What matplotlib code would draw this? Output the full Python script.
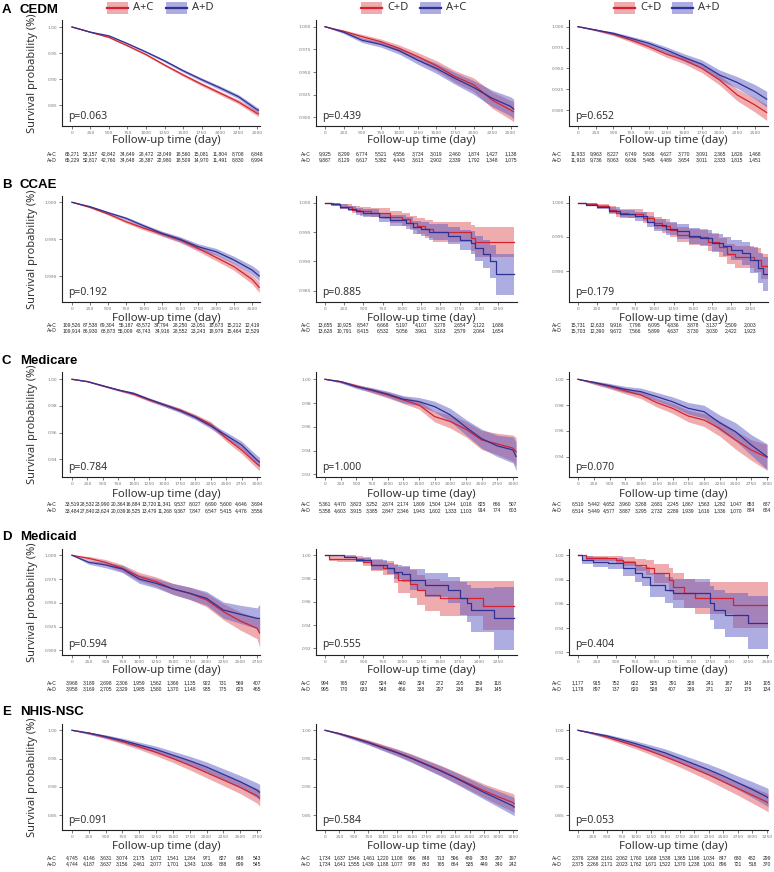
import matplotlib
matplotlib.use("Agg")
import matplotlib.pyplot as plt
from matplotlib.patches import Rectangle
from matplotlib.lines import Line2D

# ---------------- DATA ----------------
row_titles = ["A", "B", "C", "D", "E"]
row_names = ["CEDM", "CCAE", "Medicare", "Medicaid", "NHIS-NSC"]
legend_labels = [("A+C", "A+D"), ("C+D", "A+C"), ("C+D", "A+D")]
risk_labels = ("A+C", "A+D")

# A: CEDM
a1_t = [0, 250, 500, 750, 1000, 1250, 1500, 1750, 2000, 2250, 2500, 2520]
a1_red = [1, 0.990, 0.980, 0.964, 0.947, 0.927, 0.908, 0.890, 0.873, 0.856, 0.834, 0.833]
a1_blue = [1, 0.990, 0.983, 0.968, 0.952, 0.935, 0.916, 0.899, 0.883, 0.866, 0.841, 0.840]
a1_ci = [0, 0.0008, 0.0012, 0.0016, 0.002, 0.0024, 0.0028, 0.0032, 0.0036, 0.004, 0.0048, 0.005]
a2_t = [0, 250, 500, 750, 1000, 1250, 1500, 1750, 2000, 2250, 2500, 2540]
a2_red = [1, 0.995, 0.989, 0.9835, 0.976, 0.967, 0.957, 0.945, 0.936, 0.919, 0.908, 0.906]
a2_blue = [1, 0.994, 0.985, 0.9805, 0.9735, 0.963, 0.954, 0.943, 0.933, 0.921, 0.912, 0.909]
a2_ci = [0, 0.0015, 0.0025, 0.003, 0.0038, 0.0045, 0.0055, 0.0065, 0.0075, 0.009, 0.0105, 0.011]
a3_t = [0, 250, 500, 750, 1000, 1250, 1500, 1750, 2000, 2250, 2500, 2665]
a3_red = [1, 0.996, 0.991, 0.984, 0.976, 0.967, 0.960, 0.950, 0.936, 0.918, 0.906, 0.897]
a3_blue = [1, 0.996, 0.992, 0.986, 0.980, 0.972, 0.963, 0.955, 0.942, 0.933, 0.922, 0.913]
a3_ci = [0, 0.001, 0.0018, 0.0025, 0.003, 0.0037, 0.0045, 0.0052, 0.006, 0.007, 0.0085, 0.0095]

# B: CCAE
b1_t = [0, 250, 500, 750, 1000, 1250, 1500, 1750, 2000, 2250, 2500, 2600]
b1_red = [1, 0.99932, 0.99842, 0.99738, 0.99647, 0.9957, 0.99489, 0.99376, 0.99253, 0.99127, 0.98955, 0.98846]
b1_blue = [1, 0.99941, 0.9986, 0.99783, 0.99679, 0.99579, 0.99498, 0.99398, 0.9933, 0.99217, 0.99081, 0.9900]
b1_ci = [0, 0.0001, 0.00015, 0.0002, 0.00025, 0.0003, 0.00035, 0.0004, 0.00045, 0.0005, 0.0006, 0.0007]
b2_red_t = [0, 100, 200, 350, 450, 600, 750, 850, 1000, 1100, 1200, 1300, 1400, 1900, 1950, 2458]
b2_red = [1, 0.9997, 0.9993, 0.9988, 0.9985, 0.9983, 0.9982, 0.9976, 0.9972, 0.9966, 0.9960, 0.9955, 0.9950, 0.9940, 0.9933, 0.9933]
b2_red_ci = [0, 0.0002, 0.0004, 0.0006, 0.0007, 0.0008, 0.0009, 0.001, 0.0011, 0.0012, 0.0014, 0.0015, 0.0017, 0.0022, 0.0025, 0.0025]
b2_blue_t = [0, 80, 200, 300, 400, 500, 700, 850, 1050, 1150, 1250, 1350, 1600, 1750, 1900, 1950, 2050, 2150, 2220, 2458]
b2_blue = [1, 0.9997, 0.9993, 0.9990, 0.9985, 0.9982, 0.9975, 0.9970, 0.9965, 0.9958, 0.99545, 0.9950, 0.9944, 0.9937, 0.9932, 0.9922, 0.9912, 0.9900, 0.9878, 0.9878]
b2_blue_ci = [0, 0.0002, 0.0004, 0.0005, 0.0006, 0.0007, 0.0008, 0.0009, 0.001, 0.0011, 0.0012, 0.0013, 0.0015, 0.0017, 0.0019, 0.0021, 0.0024, 0.0028, 0.0035, 0.0035]
b3_red_t = [0, 100, 250, 400, 500, 650, 850, 1000, 1100, 1200, 1300, 1450, 1700, 1850, 1950, 2050, 2300, 2400, 2486]
b3_red = [1, 0.9998, 0.99956, 0.9990, 0.99854, 0.9984, 0.9978, 0.9970, 0.9966, 0.9960, 0.9953, 0.9950, 0.9942, 0.9935, 0.9925, 0.9921, 0.9916, 0.9907, 0.9907]
b3_red_ci = [0, 0.0002, 0.0003, 0.0005, 0.0006, 0.0007, 0.0008, 0.0009, 0.001, 0.001, 0.0011, 0.0012, 0.0013, 0.0014, 0.0015, 0.0016, 0.0017, 0.0018, 0.0018]
b3_blue_t = [0, 100, 250, 400, 550, 750, 900, 1000, 1150, 1300, 1450, 1600, 1750, 1900, 2000, 2150, 2250, 2350, 2420, 2486]
b3_blue = [1, 0.9997, 0.9994, 0.9988, 0.9984, 0.9980, 0.9972, 0.9967, 0.9962, 0.9958, 0.9951, 0.9948, 0.99415, 0.9936, 0.99307, 0.9926, 0.9916, 0.9905, 0.98956, 0.98956]
b3_blue_ci = [0, 0.0002, 0.0003, 0.0005, 0.0006, 0.0007, 0.0008, 0.0009, 0.001, 0.0011, 0.0012, 0.0012, 0.0013, 0.0014, 0.0015, 0.0017, 0.0019, 0.0022, 0.0025, 0.0025]

# C: Medicare
c1_t = [0, 250, 500, 750, 1000, 1250, 1500, 1750, 2000, 2250, 2500, 2750, 3000, 3040]
c1_red = [1, 0.9983, 0.995, 0.992, 0.9888, 0.9845, 0.9808, 0.977, 0.972, 0.9663, 0.9558, 0.947, 0.9365, 0.935]
c1_blue = [1, 0.9983, 0.9952, 0.992, 0.9895, 0.985, 0.9808, 0.9765, 0.9715, 0.965, 0.958, 0.9508, 0.9395, 0.938]
c1_ci = [0, 0.0003, 0.0005, 0.0007, 0.0009, 0.0011, 0.0013, 0.0015, 0.0017, 0.002, 0.0024, 0.0028, 0.0034, 0.0036]
c2_t = [0, 250, 500, 750, 1000, 1250, 1500, 1750, 2000, 2250, 2500, 2750, 3000, 3050]
c2_red = [1, 0.998, 0.9944, 0.9905, 0.9868, 0.9826, 0.9784, 0.9686, 0.9644, 0.9579, 0.9489, 0.9456, 0.942, 0.939]
c2_blue = [1, 0.998, 0.9938, 0.991, 0.9875, 0.9832, 0.9812, 0.977, 0.970, 0.9596, 0.950, 0.9439, 0.9405, 0.935]
c2_ci = [0, 0.001, 0.0015, 0.002, 0.0025, 0.003, 0.0035, 0.0045, 0.0055, 0.0065, 0.008, 0.009, 0.011, 0.012]
c3_t = [0, 250, 500, 750, 1000, 1250, 1500, 1750, 2000, 2250, 2500, 2750, 3000]
c3_red = [1, 0.9974, 0.9945, 0.991, 0.9878, 0.9819, 0.9775, 0.9715, 0.9684, 0.9619, 0.9529, 0.9452, 0.9395]
c3_blue = [1, 0.9976, 0.995, 0.9922, 0.9904, 0.9865, 0.9826, 0.9775, 0.9749, 0.9663, 0.9594, 0.9491, 0.940]
c3_ci = [0, 0.0012, 0.0018, 0.0023, 0.0028, 0.0033, 0.0038, 0.0045, 0.005, 0.006, 0.007, 0.008, 0.01]

# D: Medicaid
d1_t = [0, 250, 500, 750, 1000, 1250, 1500, 1750, 2000, 2250, 2500, 2750, 2790]
d1_red = [1, 0.9968, 0.9926, 0.9863, 0.9775, 0.9723, 0.9646, 0.960, 0.953, 0.9407, 0.9309, 0.9232, 0.918]
d1_blue = [1, 0.9926, 0.9898, 0.9856, 0.975, 0.9705, 0.9646, 0.960, 0.9547, 0.9424, 0.9379, 0.9337, 0.9335]
d1_ci = [0, 0.002, 0.003, 0.0038, 0.0045, 0.005, 0.0058, 0.0065, 0.0072, 0.0085, 0.0095, 0.011, 0.015]
d2_red_t = [0, 50, 150, 500, 600, 750, 900, 950, 1100, 1200, 1300, 1500, 2050, 2458]
d2_red = [1, 0.997, 0.9966, 0.9946, 0.9917, 0.9894, 0.9845, 0.9788, 0.975, 0.9702, 0.9659, 0.963, 0.9567, 0.9567]
d2_red_ci = [0, 0.002, 0.0025, 0.004, 0.005, 0.006, 0.008, 0.011, 0.012, 0.013, 0.014, 0.015, 0.021, 0.021]
d2_blue_t = [0, 250, 400, 600, 800, 900, 1000, 1100, 1300, 1600, 1750, 1850, 1900, 2200, 2458]
d2_blue = [1, 0.9989, 0.996, 0.9917, 0.9888, 0.986, 0.9837, 0.9788, 0.9745, 0.9702, 0.963, 0.9587, 0.953, 0.9458, 0.9458]
d2_blue_ci = [0, 0.001, 0.002, 0.004, 0.005, 0.006, 0.007, 0.009, 0.010, 0.011, 0.014, 0.016, 0.019, 0.027, 0.027]
d3_red_t = [0, 100, 500, 600, 750, 900, 1000, 1200, 1250, 1400, 1550, 2050, 2513]
d3_red = [1, 0.9975, 0.9962, 0.9948, 0.992, 0.9898, 0.9852, 0.9797, 0.9742, 0.9687, 0.9646, 0.9592, 0.9592]
d3_red_ci = [0, 0.002, 0.003, 0.004, 0.005, 0.006, 0.008, 0.010, 0.011, 0.012, 0.013, 0.019, 0.019]
d3_blue_t = [0, 50, 200, 400, 600, 750, 850, 950, 1150, 1250, 1750, 1800, 1950, 2250, 2513]
d3_blue = [1, 0.9962, 0.9942, 0.9934, 0.9893, 0.9852, 0.9824, 0.9755, 0.9714, 0.9687, 0.9605, 0.955, 0.9508, 0.9445, 0.9445]
d3_blue_ci = [0, 0.003, 0.004, 0.0045, 0.006, 0.007, 0.008, 0.010, 0.011, 0.012, 0.014, 0.016, 0.018, 0.022, 0.022]

# E: NHIS-NSC
e1_t = [0, 250, 500, 750, 1000, 1250, 1500, 1750, 2000, 2250, 2500, 2750, 2790]
e1_red = [1, 0.995, 0.988, 0.980, 0.971, 0.961, 0.950, 0.938, 0.925, 0.912, 0.899, 0.884, 0.880]
e1_blue = [1, 0.995, 0.989, 0.982, 0.974, 0.966, 0.956, 0.946, 0.935, 0.922, 0.909, 0.894, 0.890]
e1_ci = [0, 0.002, 0.003, 0.004, 0.005, 0.006, 0.007, 0.008, 0.009, 0.010, 0.011, 0.013, 0.014]
e2_t = [0, 250, 500, 750, 1000, 1250, 1500, 1750, 2000, 2250, 2500, 2750, 3000, 3250, 3270]
e2_red = [1, 0.994, 0.987, 0.979, 0.970, 0.961, 0.951, 0.940, 0.929, 0.917, 0.905, 0.893, 0.882, 0.872, 0.870]
e2_blue = [1, 0.994, 0.986, 0.978, 0.969, 0.960, 0.950, 0.939, 0.928, 0.916, 0.903, 0.890, 0.878, 0.866, 0.864]
e2_ci = [0, 0.002, 0.003, 0.004, 0.005, 0.006, 0.007, 0.008, 0.009, 0.010, 0.011, 0.012, 0.014, 0.016, 0.016]
e3_t = [0, 250, 500, 750, 1000, 1250, 1500, 1750, 2000, 2250, 2500, 2750, 3000, 3250, 3270]
e3_red = [1, 0.995, 0.988, 0.980, 0.972, 0.963, 0.953, 0.943, 0.932, 0.921, 0.909, 0.897, 0.885, 0.873, 0.871]
e3_blue = [1, 0.995, 0.990, 0.983, 0.976, 0.968, 0.960, 0.950, 0.940, 0.930, 0.919, 0.907, 0.895, 0.882, 0.880]
e3_ci = [0, 0.002, 0.003, 0.004, 0.005, 0.006, 0.007, 0.008, 0.009, 0.010, 0.011, 0.012, 0.014, 0.016, 0.016]

p_values = [["p=0.063", "p=0.439", "p=0.652"],
            ["p=0.192", "p=0.885", "p=0.179"],
            ["p=0.784", "p=1.000", "p=0.070"],
            ["p=0.594", "p=0.555", "p=0.404"],
            ["p=0.091", "p=0.584", "p=0.053"]]

# numbers at risk
a1_risk_top = ["65,271", "53,157", "42,842", "34,649", "28,472", "23,049", "18,560", "15,081", "11,804", "8,708", "6,848"]
a1_risk_bot = ["65,229", "52,817", "42,760", "34,648", "28,387", "22,980", "18,509", "14,970", "11,491", "8,830", "6,994"]
a2_risk_top = ["9,925", "8,299", "6,774", "5,521", "4,556", "3,734", "3,019", "2,460", "1,874", "1,427", "1,138"]
a2_risk_bot = ["9,887", "8,129", "6,617", "5,382", "4,443", "3,613", "2,902", "2,339", "1,792", "1,348", "1,075"]
a3_risk_top = ["11,933", "9,963", "8,227", "6,749", "5,636", "4,627", "3,770", "3,091", "2,365", "1,826", "1,468"]
a3_risk_bot = ["11,918", "9,736", "8,063", "6,636", "5,465", "4,489", "3,654", "3,011", "2,333", "1,815", "1,451"]
b1_risk_top = ["109,526", "87,538", "69,304", "55,187", "43,572", "34,794", "28,250", "23,051", "18,673", "15,212", "12,419"]
b1_risk_bot = ["109,914", "86,930", "68,873", "55,009", "43,743", "34,916", "28,552", "23,243", "18,979", "15,464", "12,529"]
b2_risk_top = ["13,655", "10,925", "8,547", "6,668", "5,197", "4,107", "3,278", "2,654", "2,122", "1,686"]
b2_risk_bot = ["13,628", "10,791", "8,415", "6,532", "5,056", "3,961", "3,163", "2,579", "2,064", "1,654"]
b3_risk_top = ["15,731", "12,633", "9,916", "7,798", "6,095", "4,836", "3,878", "3,137", "2,509", "2,003"]
b3_risk_bot = ["15,703", "12,390", "9,672", "7,566", "5,899", "4,637", "3,730", "3,030", "2,422", "1,923"]
c1_risk_top = ["33,519", "28,532", "23,990", "20,364", "16,884", "13,720", "11,341", "9,537", "8,027", "6,690", "5,600", "4,646", "3,694"]
c1_risk_bot = ["33,484", "27,840", "23,624", "20,039", "16,525", "13,479", "11,268", "9,367", "7,847", "6,547", "5,415", "4,476", "3,556"]
c2_risk_top = ["5,361", "4,470", "3,823", "3,252", "2,674", "2,174", "1,809", "1,504", "1,244", "1,018", "825", "666", "507"]
c2_risk_bot = ["5,358", "4,603", "3,915", "3,385", "2,847", "2,346", "1,943", "1,602", "1,333", "1,103", "914", "774", "603"]
c3_risk_top = ["6,510", "5,442", "4,652", "3,960", "3,268", "2,681", "2,245", "1,867", "1,563", "1,282", "1,047", "853", "687"]
c3_risk_bot = ["6,514", "5,449", "4,577", "3,887", "3,295", "2,732", "2,289", "1,939", "1,616", "1,336", "1,070", "884", "684"]
d1_risk_top = ["3,968", "3,189", "2,698", "2,306", "1,959", "1,562", "1,366", "1,135", "922", "731", "569", "407"]
d1_risk_bot = ["3,958", "3,169", "2,705", "2,329", "1,985", "1,580", "1,370", "1,148", "935", "775", "625", "465"]
d2_risk_top = ["994", "765", "637", "524", "440", "324", "272", "205", "159", "118"]
d2_risk_bot = ["995", "770", "633", "548", "466", "338", "297", "238", "184", "145"]
d3_risk_top = ["1,177", "915", "752", "622", "525", "391", "328", "241", "187", "143", "105"]
d3_risk_bot = ["1,178", "897", "737", "620", "528", "407", "339", "271", "217", "175", "134"]
e1_risk_top = ["4,745", "4,146", "3,631", "3,074", "2,175", "1,672", "1,541", "1,264", "971", "827", "648", "543"]
e1_risk_bot = ["4,744", "4,187", "3,637", "3,156", "2,461", "2,077", "1,701", "1,343", "1,036", "888", "699", "545"]
e2_risk_top = ["1,734", "1,637", "1,546", "1,461", "1,220", "1,108", "996", "848", "713", "596", "489", "393", "297", "197"]
e2_risk_bot = ["1,734", "1,641", "1,555", "1,439", "1,188", "1,077", "978", "863", "765", "664", "535", "449", "340", "242"]
e3_risk_top = ["2,376", "2,268", "2,161", "2,062", "1,760", "1,668", "1,538", "1,365", "1,198", "1,034", "847", "680", "482", "299"]
e3_risk_bot = ["2,375", "2,266", "2,171", "2,023", "1,762", "1,671", "1,522", "1,370", "1,238", "1,061", "896", "721", "518", "370"]

# axis ticks per panel
a1_yticks = [1.00, 0.95, 0.90, 0.85]
a2_yticks = [1.000, 0.975, 0.950, 0.925, 0.900]
a3_yticks = [1.000, 0.975, 0.950, 0.925, 0.900]
b1_yticks = [1.000, 0.995, 0.990]
b2_yticks = [1.000, 0.995, 0.990, 0.985]
b3_yticks = [1.000, 0.995, 0.990]
c1_yticks = [1.00, 0.98, 0.96, 0.94]
c2_yticks = [1.00, 0.98, 0.96, 0.94, 0.92]
c3_yticks = [1.00, 0.98, 0.96, 0.94]
d1_yticks = [1.000, 0.975, 0.950, 0.925, 0.900]
d2_yticks = [1.00, 0.98, 0.96, 0.94, 0.92]
d3_yticks = [1.00, 0.98, 0.96, 0.94, 0.92]
e1_yticks = [1.00, 0.95, 0.90, 0.85]
e2_yticks = [1.00, 0.95, 0.90, 0.85]
e3_yticks = [1.00, 0.95, 0.90, 0.85]

# ---------------- STYLE / LAYOUT ----------------
W, H = 774, 872
fig = plt.figure(figsize=(W / 100, H / 100), dpi=100)
RED, BLUE = "#D42330", "#2E3192"
RED_F, BLUE_F = "#E05A5E", "#5C5CC4"
FONT = "Noto Sans"

col_left = [62, 316, 569]
col_right = [260, 517, 768]
row_top = [20, 196, 372, 549, 724]
row_bot = [126, 302, 477, 655, 830]
row_title_y = [10, 185, 361, 537, 712]
row_xlab_y = [141, 318, 495, 671, 846]
row_risk_y = [(154, 160), (325, 331), (504, 511), (683, 689), (858, 864)]
risk_label_x = [47, 301, 552]


def px_axes(l, t, r, b):
    return fig.add_axes([l / W, 1 - b / H, (r - l) / W, (b - t) / H])


def fig_text(x, y, s, **kw):
    fig.text(x / W, 1 - y / H, s, **kw)


panels = [
    [dict(step=False, rt=a1_t, r=a1_red, rc=a1_ci, bt=a1_t, b=a1_blue, bc=a1_ci, yt=a1_yticks, fmt="%.2f",
          xmax=2500, x0=72, xa=(2500, 257), ya=((1.0, 27), (0.85, 105)), rk=(a1_risk_top, a1_risk_bot)),
     dict(step=False, rt=a2_t, r=a2_red, rc=a2_ci, bt=a2_t, b=a2_blue, bc=a2_ci, yt=a2_yticks, fmt="%.3f",
          xmax=2500, x0=325, xa=(2500, 510.7), ya=((1.0, 26.7), (0.9, 117.3)), rk=(a2_risk_top, a2_risk_bot)),
     dict(step=False, rt=a3_t, r=a3_red, rc=a3_ci, bt=a3_t, b=a3_blue, bc=a3_ci, yt=a3_yticks, fmt="%.3f",
          xmax=2500, x0=578, xa=(2500, 755), ya=((1.0, 26.7), (0.9, 110)), rk=(a3_risk_top, a3_risk_bot))],
    [dict(step=False, rt=b1_t, r=b1_red, rc=b1_ci, bt=b1_t, b=b1_blue, bc=b1_ci, yt=b1_yticks, fmt="%.3f",
          xmax=2500, x0=72, xa=(2500, 252), ya=((1.0, 202.3), (0.99, 276)), rk=(b1_risk_top, b1_risk_bot)),
     dict(step=True, rt=b2_red_t, r=b2_red, rc=b2_red_ci, bt=b2_blue_t, b=b2_blue, bc=b2_blue_ci, yt=b2_yticks,
          fmt="%.3f", xmax=2250, x0=325, xa=(2250, 498), ya=((1.0, 202.7), (0.985, 290.7)), rk=(b2_risk_top, b2_risk_bot)),
     dict(step=True, rt=b3_red_t, r=b3_red, rc=b3_red_ci, bt=b3_blue_t, b=b3_blue, bc=b3_blue_ci, yt=b3_yticks,
          fmt="%.3f", xmax=2250, x0=578, xa=(2250, 750), ya=((1.0, 202.7), (0.99, 271)), rk=(b3_risk_top, b3_risk_bot))],
    [dict(step=False, rt=c1_t, r=c1_red, rc=c1_ci, bt=c1_t, b=c1_blue, bc=c1_ci, yt=c1_yticks, fmt="%.2f",
          xmax=3000, x0=72, xa=(3000, 257), ya=((1.0, 379.3), (0.94, 459.3)), rk=(c1_risk_top, c1_risk_bot)),
     dict(step=False, rt=c2_t, r=c2_red, rc=c2_ci, bt=c2_t, b=c2_blue, bc=c2_ci, yt=c2_yticks, fmt="%.2f",
          xmax=3000, x0=325, xa=(3000, 513), ya=((1.0, 379.3), (0.92, 474.3)), rk=(c2_risk_top, c2_risk_bot)),
     dict(step=False, rt=c3_t, r=c3_red, rc=c3_ci, bt=c3_t, b=c3_blue, bc=c3_ci, yt=c3_yticks, fmt="%.2f",
          xmax=3000, x0=578, xa=(3000, 767), ya=((1.0, 379.3), (0.94, 456.7)), rk=(c3_risk_top, c3_risk_bot))],
    [dict(step=False, rt=d1_t, r=d1_red, rc=d1_ci, bt=d1_t, b=d1_blue, bc=d1_ci, yt=d1_yticks, fmt="%.3f",
          xmax=2750, x0=72, xa=(2750, 257), ya=((1.0, 555.3), (0.9, 650.3)), rk=(d1_risk_top, d1_risk_bot)),
     dict(step=True, rt=d2_red_t, r=d2_red, rc=d2_red_ci, bt=d2_blue_t, b=d2_blue, bc=d2_blue_ci, yt=d2_yticks,
          fmt="%.2f", xmax=2250, x0=325, xa=(2250, 498), ya=((1.0, 555.3), (0.92, 648.3)), rk=(d2_risk_top, d2_risk_bot)),
     dict(step=True, rt=d3_red_t, r=d3_red, rc=d3_red_ci, bt=d3_blue_t, b=d3_blue, bc=d3_blue_ci, yt=d3_yticks,
          fmt="%.2f", xmax=2500, x0=578, xa=(2500, 767), ya=((1.0, 555.3), (0.92, 652.3)), rk=(d3_risk_top, d3_risk_bot))],
    [dict(step=False, rt=e1_t, r=e1_red, rc=e1_ci, bt=e1_t, b=e1_blue, bc=e1_ci, yt=e1_yticks, fmt="%.2f",
          xmax=2750, x0=72, xa=(2750, 257), ya=((1.0, 730.3), (0.85, 815)), rk=(e1_risk_top, e1_risk_bot)),
     dict(step=False, rt=e2_t, r=e2_red, rc=e2_ci, bt=e2_t, b=e2_blue, bc=e2_ci, yt=e2_yticks, fmt="%.2f",
          xmax=3250, x0=325, xa=(3250, 513), ya=((1.0, 730.3), (0.85, 815)), rk=(e2_risk_top, e2_risk_bot)),
     dict(step=False, rt=e3_t, r=e3_red, rc=e3_ci, bt=e3_t, b=e3_blue, bc=e3_ci, yt=e3_yticks, fmt="%.2f",
          xmax=3250, x0=578, xa=(3250, 767), ya=((1.0, 730.3), (0.85, 815)), rk=(e3_risk_top, e3_risk_bot))],
]


def draw_band(ax, t, s, c, fill_col, step):
    lo = [v - h for v, h in zip(s, c)]
    hi = [v + h for v, h in zip(s, c)]
    ax.fill_between(t, lo, hi, step=("post" if step else None), color=fill_col, alpha=0.5, lw=0)


for ri in range(5):
    fig_text(2, row_title_y[ri], row_titles[ri], fontsize=9.5, fontweight="bold",
             family="Liberation Sans", va="center", ha="left")
    fig_text(20, row_title_y[ri], row_names[ri], fontsize=9.5, fontweight="bold",
             family="Liberation Sans", va="center", ha="left")
    for ci in range(3):
        p = panels[ri][ci]
        L, R, T, B = col_left[ci], col_right[ci], row_top[ri], row_bot[ri]
        ax = px_axes(L, T, R, B)
        scale = (p["xa"][1] - p["x0"]) / p["xa"][0]
        ax.set_xlim((L - p["x0"]) / scale, (R - p["x0"]) / scale)
        (v1, p1), (v2, p2) = p["ya"]
        per = (v1 - v2) / (p2 - p1)
        ax.set_ylim(v1 - (B - p1) * per, v1 + (p1 - T) * per)

        draw_band(ax, p["rt"], p["r"], p["rc"], RED_F, p["step"])
        draw_band(ax, p["bt"], p["b"], p["bc"], BLUE_F, p["step"])
        ds = "steps-post" if p["step"] else "default"
        ax.plot(p["rt"], p["r"], color=RED, lw=0.9, drawstyle=ds)
        ax.plot(p["bt"], p["b"], color=BLUE, lw=0.9, drawstyle=ds)

        xt = list(range(0, p["xmax"] + 1, 250))
        ax.set_xticks(xt)
        ax.set_xticklabels([str(v) for v in xt])
        ax.set_yticks(p["yt"])
        ax.set_yticklabels([p["fmt"] % v for v in p["yt"]])
        for s in ["top", "right"]:
            ax.spines[s].set_visible(False)
        for s in ["left", "bottom"]:
            ax.spines[s].set_linewidth(0.8)
            ax.spines[s].set_color("#222222")
        ax.tick_params(length=2, width=0.5, color="#444444", labelsize=3.2,
                       labelcolor="#777777", pad=1.5)
        ax.set_facecolor("none")

        ax.annotate(p_values[ri][ci], xy=(0, 0), xycoords="axes fraction",
                    xytext=(6, 10), textcoords="offset pixels", fontsize=7.5,
                    family=FONT, color="#333333", va="center", ha="left")

        fig_text((L + R) / 2 + 5, row_xlab_y[ri], "Follow-up time (day)", fontsize=8.2,
                 family=FONT, color="#333333", ha="center", va="center")
        if ci == 0:
            fig_text(32, (T + B) / 2, "Survival probability (%)", fontsize=8,
                     family=FONT, color="#333333", ha="center", va="center", rotation=90)

        y_top, y_bot = row_risk_y[ri]
        fig_text(risk_label_x[ci], y_top, risk_labels[0], fontsize=3.6,
                 family="Liberation Sans", color="#222222", ha="left", va="center")
        fig_text(risk_label_x[ci], y_bot, risk_labels[1], fontsize=3.6,
                 family="Liberation Sans", color="#222222", ha="left", va="center")
        for k, (s1, s2) in enumerate(zip(*p["rk"])):
            xp = p["x0"] + xt[k] * scale
            fig_text(xp, y_top, s1, fontsize=3.6, family="Liberation Sans",
                     color="#222222", ha="center", va="center")
            fig_text(xp, y_bot, s2, fontsize=3.6, family="Liberation Sans",
                     color="#222222", ha="center", va="center")

legend_x = [(107, 166), (361, 420), (614, 672)]
for ci in range(3):
    for k, (lc, fc) in enumerate([(RED, RED_F), (BLUE, BLUE_F)]):
        x = legend_x[ci][k]
        fig.add_artist(Rectangle((x / W, 1 - 14 / H), 21 / W, 12 / H, transform=fig.transFigure,
                                 facecolor=fc, alpha=0.5, edgecolor="none"))
        fig.add_artist(Line2D([x / W, (x + 21) / W], [1 - 8 / H, 1 - 8 / H], transform=fig.transFigure,
                              color=lc, lw=1.6))
        fig_text(x + 26, 8, legend_labels[ci][k], fontsize=8, family=FONT, color="#333333",
                 ha="left", va="center")

fig.savefig("out.png", dpi=100)
